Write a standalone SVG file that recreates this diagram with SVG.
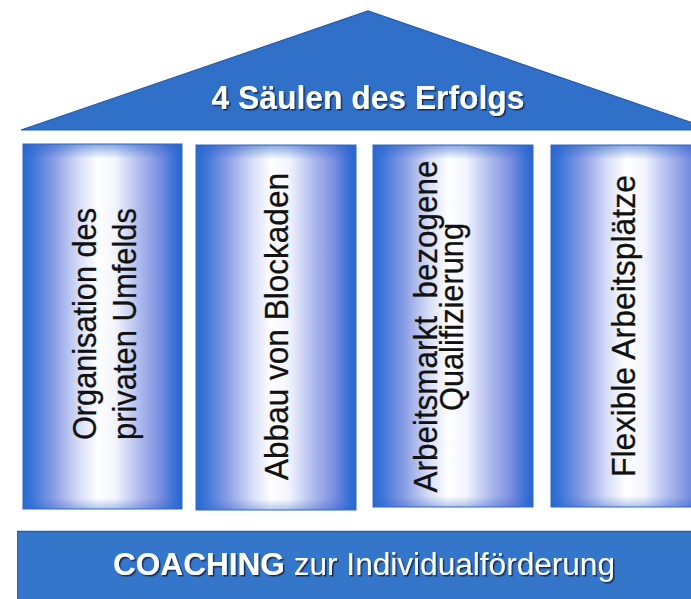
<svg xmlns="http://www.w3.org/2000/svg" width="691" height="599" viewBox="0 0 691 599">
  <style>
    .pillar { fill: url(#pillarGrad); stroke: #2f68c8; stroke-width: 1; }
    .ptext { font-family: "Liberation Sans", Arial, sans-serif; font-size: 33px; fill: #111111; stroke: #111111; stroke-width: 0.3; text-anchor: middle; }
    .wtext { font-family: "Liberation Sans", Arial, sans-serif; fill: #ffffff; filter: url(#shadow); }
  </style>
  <defs>
    <linearGradient id="pillarGrad" x1="0" y1="0" x2="1" y2="0">
      <stop offset="0" stop-color="#2a6ad0"/>
      <stop offset="0.06" stop-color="#3d76d8"/>
      <stop offset="0.2" stop-color="#8c9fe5"/>
      <stop offset="0.35" stop-color="#d6ddf6"/>
      <stop offset="0.47" stop-color="#ffffff"/>
      <stop offset="0.58" stop-color="#f3f5fd"/>
      <stop offset="0.72" stop-color="#b4bfee"/>
      <stop offset="0.86" stop-color="#7b8fe0"/>
      <stop offset="0.95" stop-color="#3b72d6"/>
      <stop offset="1" stop-color="#2a66cc"/>
    </linearGradient>
    <linearGradient id="topShade" x1="0" y1="0" x2="0" y2="1">
      <stop offset="0" stop-color="#2a62c8" stop-opacity="0.55"/>
      <stop offset="0.04" stop-color="#2a62c8" stop-opacity="0"/>
      <stop offset="0.97" stop-color="#2a62c8" stop-opacity="0"/>
      <stop offset="1" stop-color="#2a62c8" stop-opacity="0.35"/>
    </linearGradient>
    <filter id="shadow" x="-5%" y="-20%" width="110%" height="150%">
      <feDropShadow dx="1.5" dy="1.5" stdDeviation="0.7" flood-color="#0a2048" flood-opacity="0.9"/>
    </filter>
  </defs>
  <rect width="691" height="599" fill="#ffffff"/>

  <g id="roof">
    <polygon points="21,130 368,11 713,130" fill="#3070c8" stroke="#2259b0" stroke-width="1.2"/>
    <text class="wtext" x="368" y="109" font-size="33" font-weight="bold" text-anchor="middle" textLength="313" lengthAdjust="spacingAndGlyphs">4 Säulen des Erfolgs</text>
  </g>

  <g id="pillar1">
    <rect class="pillar" x="23" y="144" width="159" height="365"/>
    <rect x="23" y="144" width="159" height="365" fill="url(#topShade)"/>
    <text class="ptext" transform="translate(96,324) rotate(-90)" textLength="232" lengthAdjust="spacingAndGlyphs">Organisation des</text>
    <text class="ptext" transform="translate(136,324) rotate(-90)" textLength="232" lengthAdjust="spacingAndGlyphs">privaten Umfelds</text>
  </g>

  <g id="pillar2">
    <rect class="pillar" x="196" y="145" width="160" height="365"/>
    <rect x="196" y="145" width="160" height="365" fill="url(#topShade)"/>
    <text class="ptext" transform="translate(288,326.5) rotate(-90)" textLength="307" lengthAdjust="spacingAndGlyphs">Abbau von Blockaden</text>
  </g>

  <g id="pillar3">
    <rect class="pillar" x="373" y="145" width="160" height="362"/>
    <rect x="373" y="145" width="160" height="362" fill="url(#topShade)"/>
    <text class="ptext" transform="translate(437,326.5) rotate(-90)" textLength="332" lengthAdjust="spacingAndGlyphs" xml:space="preserve">Arbeitsmarkt  bezogene</text>
    <text class="ptext" transform="translate(463,317) rotate(-90)" textLength="188" lengthAdjust="spacingAndGlyphs">Qualifizierung</text>
  </g>

  <g id="pillar4">
    <rect class="pillar" x="551" y="145" width="160" height="362"/>
    <rect x="551" y="145" width="160" height="362" fill="url(#topShade)"/>
    <text class="ptext" transform="translate(635,326) rotate(-90)" textLength="302" lengthAdjust="spacingAndGlyphs">Flexible Arbeitsplätze</text>
  </g>

  <g id="base">
    <rect x="17" y="531" width="690" height="80" fill="#3476c9"/>
    <line x1="17" y1="531.5" x2="691" y2="531.5" stroke="#2a5fae" stroke-width="1.5"/>
    <line x1="17.5" y1="531" x2="17.5" y2="599" stroke="#2a62b4" stroke-width="1"/>
    <text class="wtext" x="113" y="575" font-size="31" textLength="502" lengthAdjust="spacingAndGlyphs"><tspan font-weight="bold">COACHING</tspan> zur Individualförderung</text>
  </g>

  <g id="connectors"/>
</svg>
